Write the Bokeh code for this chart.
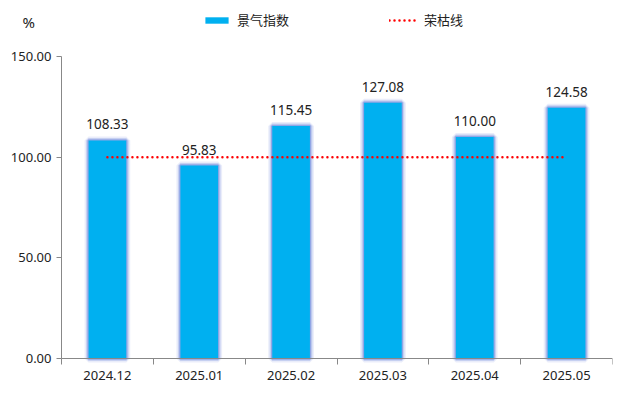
from bokeh.plotting import figure
from bokeh.models import (Range1d, Legend, LegendItem, Label, LabelSet, ColumnDataSource,
                          FixedTicker, NumeralTickFormatter, LinearAxis)
from bokeh.core.properties import value
from bokeh.embed import file_html
from bokeh.resources import INLINE

months = ["2024.12", "2025.01", "2025.02", "2025.03", "2025.04", "2025.05"]
index_vals = [108.33, 95.83, 115.45, 127.08, 110.00, 124.58]
threshold_vals = [100, 100, 100, 100, 100, 100]
y_ticks = [0, 50, 100, 150]

FONT = "Noto Sans"
CJK = "Noto Sans CJK SC"

pos = list(range(len(months)))
src = ColumnDataSource(dict(x=pos, top=index_vals,
                            label=["%.2f" % v for v in index_vals]))

# the frame covers the whole canvas; axes are drawn with fixed_location + bounds
H = 385
PX_PER_UNIT = 302 / 150
X_START = -0.5 - 61 / 91.83
Y_START = -(H - 358) / PX_PER_UNIT
Y_END = 358 / PX_PER_UNIT
BAR_W = 0.41

p = figure(width=620, height=H,
           x_range=Range1d(X_START, len(months) - 0.5), y_range=Range1d(Y_START, Y_END),
           output_backend="svg", toolbar_location=None,
           x_axis_location=None, y_axis_location=None,
           min_border_left=0, min_border_right=8,
           min_border_top=0, min_border_bottom=0)

p.outline_line_color = None
p.grid.grid_line_color = None

# glow layers
p.vbar(x="x", top="top", bottom=0, width=BAR_W, source=src, fill_color=None,
       line_color="#7a92e0", line_width=8, line_alpha=0.16)
p.vbar(x="x", top="top", bottom=0, width=BAR_W, source=src, fill_color=None,
       line_color="#7a92e0", line_width=5, line_alpha=0.32)
p.vbar(x="x", top="top", bottom=0, width=BAR_W, source=src, fill_color=None,
       line_color="#6f8ade", line_width=2.5, line_alpha=0.6)
bars = p.vbar(x="x", top="top", bottom=0, width=BAR_W, source=src,
              fill_color="#00B0F0", line_color=None)

line = p.line(x=pos, y=threshold_vals, line_color="#FF0000",
              line_width=2.5, line_dash="0 5", line_cap="round")

labels = LabelSet(x="x", y="top", text="label", source=src,
                  text_align="center", text_baseline="bottom", y_offset=11,
                  text_font=value(FONT), text_font_size="13.5px", text_color="#222222")
p.add_layout(labels)

# x axis: labels at category centres, ticks at category boundaries
xaxis = LinearAxis(ticker=FixedTicker(ticks=pos, minor_ticks=[i - 0.5 for i in range(len(months) + 1)]),
                   major_label_overrides={i: m for i, m in zip(pos, months)},
                   bounds=(-0.5, len(months) - 0.5), fixed_location=0)
xaxis.major_tick_in = 0
xaxis.major_tick_out = 0
xaxis.minor_tick_in = 0
xaxis.minor_tick_out = 6
xaxis.minor_tick_line_color = "#888888"
xaxis.major_label_standoff = 6
p.add_layout(xaxis, "below")

yaxis = LinearAxis(ticker=FixedTicker(ticks=y_ticks),
                   formatter=NumeralTickFormatter(format="0.00"),
                   bounds=(0, 150), fixed_location=-0.5)
yaxis.major_tick_in = 0
yaxis.major_tick_out = 5
yaxis.minor_tick_line_color = None
yaxis.major_label_standoff = 5
p.add_layout(yaxis, "left")

for ax in (xaxis, yaxis):
    ax.axis_line_color = "#888888"
    ax.major_tick_line_color = "#888888"
    ax.major_label_text_font = FONT
    ax.major_label_text_font_size = "13px"
    ax.major_label_text_color = "#222222"

legend = Legend(items=[LegendItem(label="景气指数", renderers=[bars]),
                       LegendItem(label="荣枯线", renderers=[line])],
                orientation="horizontal", location=(202, H - 29),
                glyph_width=29, glyph_height=8, label_standoff=6,
                spacing=100, padding=0, margin=0,
                border_line_color=None, background_fill_alpha=0,
                label_text_font=CJK, label_text_font_size="13px",
                label_text_color="#222222", label_height=14)
p.add_layout(legend, "center")

p.add_layout(Label(x=22, y=H - 21, x_units="screen", y_units="screen", text="%",
                   text_font=FONT, text_font_size="15px", text_color="#222222",
                   text_baseline="middle"))

open("out.html", "w").write(file_html(p, INLINE))
